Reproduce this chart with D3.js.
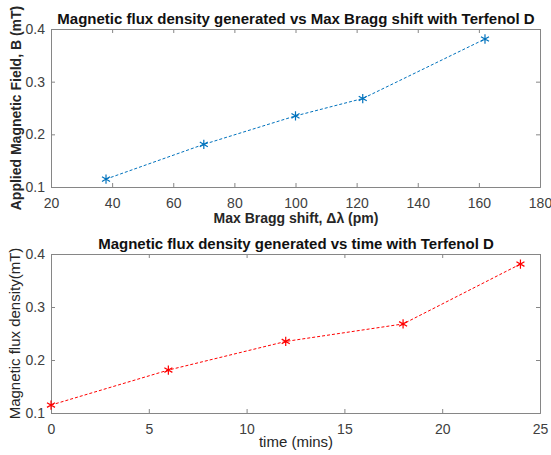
<!DOCTYPE html>
<html>
<head>
<meta charset="utf-8">
<style>
  body { margin: 0; background: #fff; }
  text { font-family: "Liberation Sans", Arial, sans-serif; }
</style>
</head>
<body>
<div id="chart"></div>
<script src="https://d3js.org/d3.v7.min.js"></script>
<script>
// data
const braggShift = [38, 70, 100, 122, 162];
const timeMins = [0, 6, 12, 18, 24];
const fluxDensity = [0.115, 0.181, 0.235, 0.268, 0.381];

const xTicks1 = [20, 40, 60, 80, 100, 120, 140, 160, 180];
const xTicks2 = [0, 5, 10, 15, 20, 25];
const yTicks = [0.1, 0.2, 0.3, 0.4];

const W = 551, H = 455;
const svg = d3.select("#chart").append("svg")
    .attr("width", W).attr("height", H);

function panel(opts) {
    const x = d3.scaleLinear().domain(opts.xDomain).range([51, 540]);
    const y = d3.scaleLinear().domain([0.1, 0.4]).range([opts.bottom, opts.top]);
    const g = svg.append("g");

    // axes: ticks inside, box on all 4 sides
    g.append("g").attr("transform", `translate(0,${opts.bottom})`)
        .call(d3.axisBottom(x).tickValues(opts.xTicks).tickSize(-4).tickPadding(11));
    g.append("g").attr("transform", `translate(0,${opts.top})`)
        .call(d3.axisTop(x).tickValues(opts.xTicks).tickSize(-4).tickFormat(""));
    g.append("g").attr("transform", "translate(51,0)")
        .call(d3.axisLeft(y).tickValues(yTicks).tickSize(-4).tickPadding(6).tickFormat(d3.format(".1f")));
    g.append("g").attr("transform", "translate(540,0)")
        .call(d3.axisRight(y).tickValues(yTicks).tickSize(-4).tickFormat(""));
    g.selectAll(".domain, .tick line").attr("stroke", "#868686");
    g.selectAll(".tick text").attr("fill", "#404040").style("font-size", "14px")
        .style("font-family", "'Liberation Sans', Arial, sans-serif");

    const pts = opts.xs.map((v, i) => [x(v), y(fluxDensity[i])]);
    g.append("path")
        .attr("d", d3.line()(pts))
        .attr("fill", "none")
        .attr("stroke", opts.color)
        .attr("stroke-width", 1)
        .attr("stroke-dasharray", "3,2");

    const star = d3.symbol().type(d3.symbolAsterisk).size(60);
    g.selectAll(".m").data(pts).enter().append("path")
        .attr("transform", d => `translate(${d[0]},${d[1]})`)
        .attr("d", star)
        .attr("fill", "none")
        .attr("stroke", opts.color)
        .attr("stroke-width", 1.2);

    g.append("text")
        .attr("x", 296).attr("y", opts.top - 5)
        .attr("text-anchor", "middle")
        .style("font-size", "15px").style("font-weight", "bold")
        .attr("fill", "#111")
        .text(opts.title);
    g.append("text")
        .attr("x", 296).attr("y", opts.bottom + opts.xLabelDy)
        .attr("text-anchor", "middle")
        .style("font-size", opts.labelSize).style("font-weight", opts.bold ? "bold" : "normal")
        .attr("fill", "#262626")
        .text(opts.xLabel);
    g.append("text")
        .attr("transform", `translate(${opts.yLabelX},${(opts.top + opts.bottom) / 2}) rotate(-90)`)
        .attr("text-anchor", "middle")
        .style("font-size", opts.labelSize).style("font-weight", opts.bold ? "bold" : "normal")
        .attr("fill", "#262626")
        .text(opts.yLabel);
}

panel({
    xDomain: [20, 180], xTicks: xTicks1, xs: braggShift,
    top: 29, bottom: 187, color: "#0072BD", bold: true, labelSize: "14px", xLabelDy: 36,
    title: "Magnetic flux density generated vs Max Bragg shift with Terfenol D",
    xLabel: "Max Bragg shift, \u0394\u03bb (pm)",
    yLabel: "Applied Magnetic Field, B (mT)", yLabelX: 21
});
panel({
    xDomain: [0, 25], xTicks: xTicks2, xs: timeMins,
    top: 254, bottom: 413, color: "#FF0000", bold: false, labelSize: "15px", xLabelDy: 34,
    title: "Magnetic flux density generated vs time with Terfenol D",
    xLabel: "time (mins)",
    yLabel: "Magnetic flux density(mT)", yLabelX: 20
});
</script>
</body>
</html>
